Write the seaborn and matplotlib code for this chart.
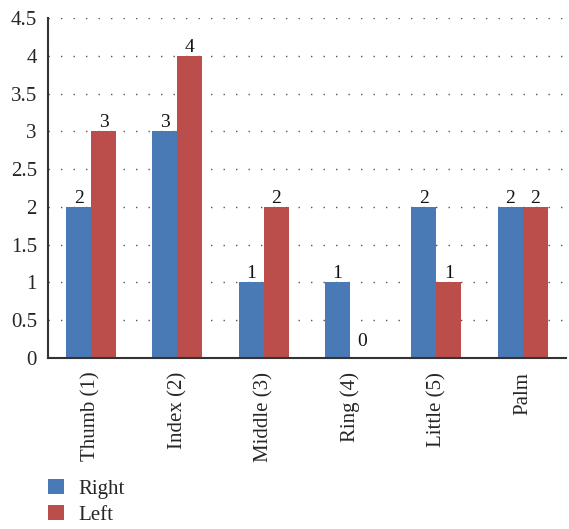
import matplotlib
matplotlib.use("Agg")
import matplotlib.pyplot as plt
import seaborn as sns
import pandas as pd
import numpy as np
from matplotlib.patches import Patch

categories = ["Thumb (1)", "Index (2)", "Middle (3)", "Ring (4)", "Little (5)", "Palm"]
right_vals = [2, 3, 1, 1, 2, 2]
left_vals = [3, 4, 2, 0, 1, 2]
series = ["Right", "Left"]
colors = ["#4A7AB5", "#BB4E4B"]

sns.set_theme(style="white")
plt.rcParams["font.family"] = ["Liberation Serif", "DejaVu Serif"]

df = pd.DataFrame({
    "cat": categories * 2,
    "val": right_vals + left_vals,
    "side": ["Right"] * len(categories) + ["Left"] * len(categories),
})

fig = plt.figure(figsize=(5.69, 5.29), dpi=100)
ax = fig.add_axes([0.0844, 0.3233, 0.91, 0.6427])

sns.barplot(data=df, x="cat", y="val", hue="side", hue_order=series,
            palette=colors, width=0.58, ax=ax, legend=False,
            saturation=1, edgecolor="none", linewidth=0)

for cont in ax.containers:
    for bar in cont:
        h = bar.get_height()
        off = 6 if h == 0 else 0
        ax.annotate(f"{int(h)}", (bar.get_x() + bar.get_width() / 2, h),
                    xytext=(0, off), textcoords="offset points",
                    ha="center", va="bottom", fontsize=14, color="#111111")

ax.set_ylim(0, 4.5)
ax.set_xlim(-0.5, 5.5)
ax.set_yticks(np.arange(0, 4.51, 0.5))
ax.set_yticklabels(["0", "0.5", "1", "1.5", "2", "2.5", "3", "3.5", "4", "4.5"], fontsize=15)
ax.yaxis.grid(True, linestyle=(0, (1, 8)), color="#555555", linewidth=1.0)
ax.set_axisbelow(True)
ax.set_xlabel("")
ax.set_ylabel("")
ax.set_xticks(range(len(categories)))
ax.set_xticklabels(categories, rotation=90, fontsize=15)
ax.set_xticks(np.arange(-0.5, 5.6, 1), minor=True)
ax.tick_params(axis="x", which="major", length=0, pad=10)
ax.tick_params(axis="x", which="minor", length=5, width=1.2, color="#333333", direction="out")
ax.tick_params(axis="y", length=5, width=1.2, color="#333333", direction="out", pad=3)
for s in ["top", "right"]:
    ax.spines[s].set_visible(False)
for s in ["left", "bottom"]:
    ax.spines[s].set_color("#333333")
    ax.spines[s].set_linewidth(1.5)

handles = [Patch(facecolor=c, edgecolor="none") for c in colors]
fig.legend(handles, series, loc="lower left", bbox_to_anchor=(0.052, -0.028),
           frameon=False, fontsize=15, handlelength=0.75, handleheight=0.75,
           labelspacing=0.3, handletextpad=0.7)

fig.savefig("out.png", dpi=100)
